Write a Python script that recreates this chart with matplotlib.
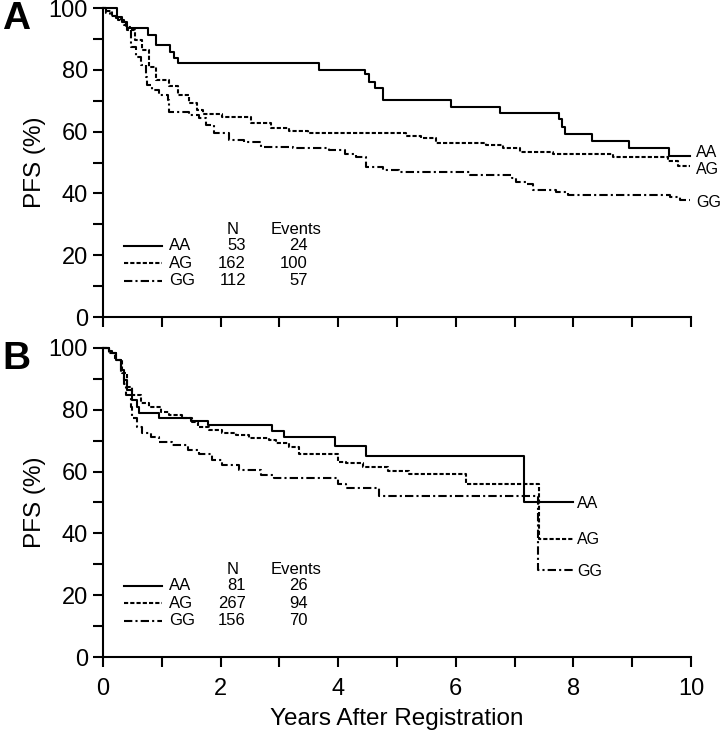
import matplotlib
matplotlib.use("Agg")
import matplotlib.pyplot as plt
from matplotlib.ticker import FuncFormatter

plt.rcParams['font.family'] = ['Liberation Sans', 'DejaVu Sans']

# ---------------- Data ----------------
groups = ["AA", "AG", "GG"]

# Panel A
a_aa_t = [0, 0.23, 0.33, 0.41, 0.77, 0.90, 1.14, 1.21, 1.28, 3.67, 4.45, 4.53, 4.63, 4.76,
          5.91, 6.75, 7.76, 7.81, 7.86, 8.32, 8.94, 9.63, 9.98]
a_aa_s = [100, 97.2, 95.5, 93.6, 91.3, 88.0, 85.9, 83.7, 82.3, 79.9, 78.6, 76.2, 74.0, 70.2,
          68.1, 65.9, 64.2, 61.6, 59.1, 57.0, 54.6, 52.2, 52.2]
a_ag_t = [0, 0.05, 0.15, 0.25, 0.35, 0.41, 0.55, 0.67, 0.78, 0.90, 1.12, 1.27, 1.47, 1.60,
          1.70, 2.03, 2.52, 2.86, 3.17, 3.48, 5.16, 5.41, 5.67, 6.52, 6.80, 7.09, 7.65, 8.68,
          9.61, 9.78, 9.98]
a_ag_s = [100, 99.0, 97.5, 96.0, 94.5, 92.9, 89.5, 86.4, 81.0, 76.7, 74.8, 71.8, 69.1, 67.0,
          65.6, 64.8, 62.9, 61.3, 60.2, 59.4, 58.7, 58.0, 56.4, 55.7, 54.8, 53.5, 52.6, 51.9,
          50.5, 49.0, 49.0]
a_gg_t = [0, 0.05, 0.12, 0.22, 0.30, 0.39, 0.47, 0.56, 0.64, 0.73, 0.75, 0.84, 0.95, 1.10,
          1.12, 1.47, 1.64, 1.75, 1.89, 2.15, 2.40, 2.69, 3.23, 3.85, 4.11, 4.30, 4.48, 4.76,
          5.04, 6.24, 6.95, 7.03, 7.20, 7.31, 7.71, 7.91, 9.64, 9.81, 9.98]
a_gg_s = [100, 98.5, 97.5, 96.7, 95.5, 94.0, 87.5, 84.0, 81.6, 77.7, 75.0, 73.5, 71.8, 70.2,
          66.4, 65.4, 64.3, 62.1, 59.4, 57.4, 56.5, 55.1, 54.6, 54.0, 52.9, 51.9, 48.6, 47.5,
          47.0, 46.0, 44.9, 43.8, 42.9, 41.1, 40.3, 39.5, 38.9, 37.9, 37.9]
a_n = [53, 162, 112]
a_events = [24, 100, 57]

# Panel B
b_aa_t = [0, 0.10, 0.16, 0.22, 0.30, 0.36, 0.41, 0.50, 0.58, 0.61, 0.95, 1.49, 1.78, 2.88,
          3.07, 3.95, 4.48, 7.16, 8.0]
b_aa_s = [100, 99.0, 98.3, 96.1, 92.9, 89.6, 86.4, 83.2, 81.0, 79.1, 77.2, 76.4, 75.1, 73.2,
          71.3, 68.3, 65.0, 50.0, 50.0]
b_ag_t = [0, 0.10, 0.20, 0.33, 0.41, 0.50, 0.64, 0.78, 0.98, 1.12, 1.35, 1.52, 1.61, 1.81,
          2.03, 2.26, 2.49, 2.83, 2.94, 3.17, 3.34, 3.99, 4.13, 4.42, 4.84, 5.21, 6.18, 7.42, 8.0]
b_ag_s = [100, 98.5, 96.0, 91.8, 87.5, 84.8, 82.1, 81.0, 79.4, 78.3, 77.2, 76.2, 74.3, 73.5,
          72.6, 71.8, 71.0, 70.2, 69.4, 68.1, 65.6, 63.2, 62.7, 61.6, 60.2, 59.2, 56.0, 38.2, 38.2]
b_gg_t = [0, 0.10, 0.22, 0.30, 0.36, 0.39, 0.47, 0.50, 0.58, 0.67, 0.81, 0.95, 1.18, 1.44,
          1.64, 1.86, 2.03, 2.32, 2.69, 2.91, 3.99, 4.13, 4.70, 7.40, 8.0]
b_gg_s = [100, 98.5, 96.0, 92.0, 88.4, 84.8, 81.0, 77.2, 74.3, 72.4, 71.3, 69.7, 68.6, 67.0,
          65.6, 63.8, 62.1, 60.5, 58.9, 57.8, 56.0, 54.8, 52.1, 28.0, 28.0]
b_n = [81, 267, 156]
b_events = [26, 94, 70]

x_ticks = list(range(0, 11))
y_ticks = list(range(0, 101, 10))

# ---------------- Styles ----------------
LW = 1.5
styles = {
    "AA": dict(linestyle='-'),
    "AG": dict(linestyle=(0, (2.0, 1.0))),
    "GG": dict(linestyle=(0, (4.0, 1.5, 1.0, 1.5))),
}

fig = plt.figure(figsize=(7.2, 7.34), dpi=100)
axA = fig.add_axes([0.1431, 0.5681, 0.8167, 0.421])
axB = fig.add_axes([0.1431, 0.1049, 0.8167, 0.421])


def style_axes(ax, show_xlabels):
    ax.set_xlim(0, 10)
    ax.set_ylim(0, 100)
    for s in ['top', 'right']:
        ax.spines[s].set_visible(False)
    for s in ['left', 'bottom']:
        ax.spines[s].set_linewidth(1.5)
    ax.set_xticks(x_ticks)
    ax.set_yticks(y_ticks)
    ax.yaxis.set_major_formatter(FuncFormatter(lambda v, p: f"{int(v)}" if int(v) % 20 == 0 else ""))
    if show_xlabels:
        ax.xaxis.set_major_formatter(FuncFormatter(lambda v, p: f"{int(v)}" if int(v) % 2 == 0 else ""))
    else:
        ax.xaxis.set_major_formatter(FuncFormatter(lambda v, p: ""))
    ax.tick_params(axis='both', direction='out', length=7, width=1.5, labelsize=17)
    ax.tick_params(axis='y', pad=4)
    ax.tick_params(axis='x', pad=8)
    ax.set_ylabel("PFS (%)", fontsize=17.5, labelpad=2)


def draw_panel(ax, curves, ns, evs, end_x, end_y):
    for g, (t, s) in zip(groups, curves):
        ax.step(t, s, where='post', color='black', lw=LW, clip_on=False, **styles[g])
    # legend block
    rows_y = [23.0, 17.4, 11.8]
    ax.text(2.2, 28.4, "N", fontsize=12, ha='center', va='center')
    ax.text(3.28, 28.4, "Events", fontsize=12, ha='center', va='center')
    for g, yv, n, e in zip(groups, rows_y, ns, evs):
        ax.plot([0.36, 1.01], [yv, yv], color='black', lw=LW, **styles[g])
        ax.text(1.12, yv, g, fontsize=12, ha='left', va='center')
        ax.text(2.43, yv, str(n), fontsize=12, ha='right', va='center')
        ax.text(3.48, yv, str(e), fontsize=12, ha='right', va='center')
    for g, yv in zip(groups, end_y):
        ax.text(end_x, yv, g, fontsize=11.5, ha='left', va='center')


style_axes(axA, False)
style_axes(axB, True)

draw_panel(axA, [(a_aa_t, a_aa_s), (a_ag_t, a_ag_s), (a_gg_t, a_gg_s)], a_n, a_events,
           10.08, [53.1, 47.6, 37.2])
draw_panel(axB, [(b_aa_t, b_aa_s), (b_ag_t, b_ag_s), (b_gg_t, b_gg_s)], b_n, b_events,
           8.06, [49.8, 38.0, 27.6])

axB.set_xlabel("Years After Registration", fontsize=17.5, labelpad=6)

fig.text(0.003, 0.974, "A", fontsize=28, fontweight='bold', ha='left', va='center')
fig.text(0.003, 0.511, "B", fontsize=28, fontweight='bold', ha='left', va='center')

fig.savefig("out.png", dpi=100)
